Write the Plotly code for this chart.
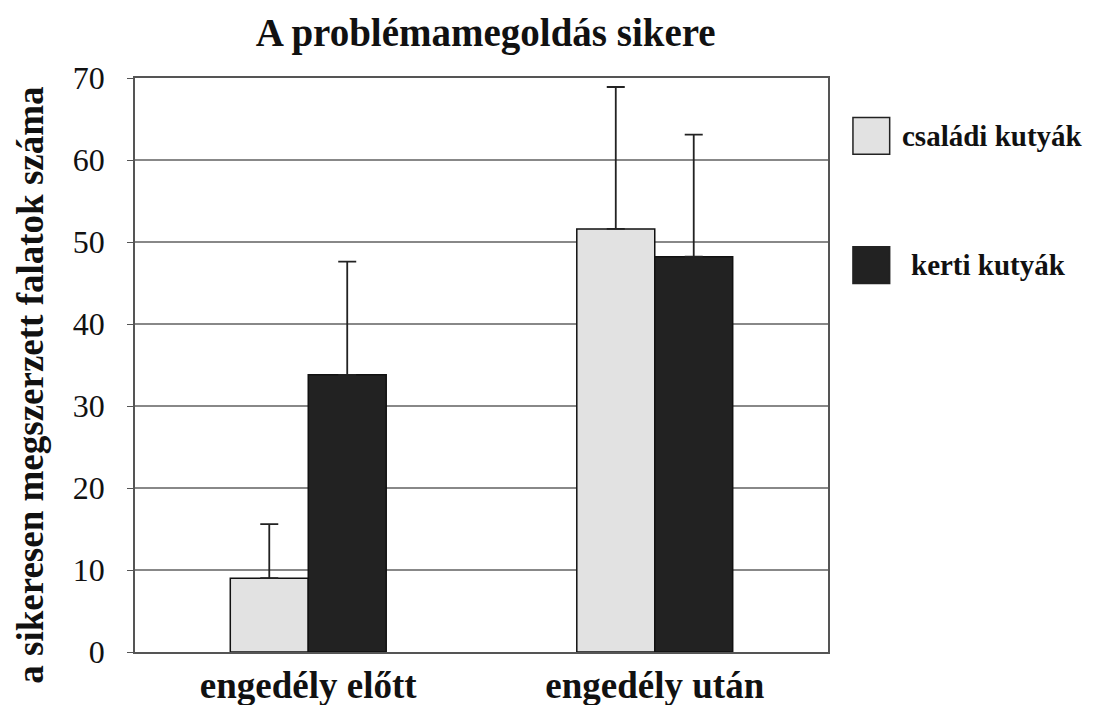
import plotly.graph_objects as go

categories = ["engedély előtt", "engedély után"]
series_names = ["családi kutyák", "kerti kutyák"]
csaladi_values = [9.0, 51.6]
csaladi_errors = [6.6, 17.3]
kerti_values = [33.8, 48.2]
kerti_errors = [13.8, 14.9]
y_ticks = [0, 10, 20, 30, 40, 50, 60, 70]
y_title = "a sikeresen megszerzett falatok száma"
chart_title = "A problémamegoldás sikere"

FONT = "Liberation Serif"
colors = ["#e2e2e2", "#222222"]

fig = go.Figure()
for name, vals, errs, col in [
    (series_names[0], csaladi_values, csaladi_errors, colors[0]),
    (series_names[1], kerti_values, kerti_errors, colors[1]),
]:
    fig.add_trace(go.Bar(
        x=categories, y=vals, name=name,
        marker=dict(color=col, line=dict(color="#111111", width=1.5)),
        error_y=dict(type="data", array=errs, arrayminus=[0] * len(errs),
                     symmetric=False, color="#222222", thickness=1.8, width=9),
        showlegend=False,
    ))

# manual legend (large swatches as in the reference)
legend_y = [0.899, 0.674]
legend_text_x = [1.104, 1.117]
for name, col, ly, tx in zip(series_names, colors, legend_y, legend_text_x):
    fig.add_shape(type="rect", xref="paper", yref="paper",
                  x0=1.036, x1=1.089, y0=ly - 0.032, y1=ly + 0.032,
                  fillcolor=col, line=dict(color="#222222", width=1.5))
    fig.add_annotation(text="<b>" + name + "</b>", xref="paper", yref="paper",
                       x=tx, y=ly, xanchor="left", yanchor="middle",
                       showarrow=False, font=dict(family=FONT, size=29, color="#111111"))

# y-axis title as rotated annotation
fig.add_annotation(text="<b>" + y_title + "</b>", xref="paper", yref="paper",
                   x=-0.152, y=0.465, xanchor="center", yanchor="middle",
                   textangle=-90, showarrow=False,
                   font=dict(family=FONT, size=37, color="#111111"))

fig.update_layout(
    width=1086, height=697,
    margin=dict(l=127, r=266, t=70, b=53, autoexpand=False),
    paper_bgcolor="white", plot_bgcolor="white",
    barmode="group", bargap=0.55, bargroupgap=0,
    title=dict(text="<b>" + chart_title + "</b>", xref="paper", x=0.506,
               xanchor="center", y=0.965, yanchor="middle",
               font=dict(family=FONT, size=39, color="#111111")),
    font=dict(family=FONT, color="#111111"),
)
fig.update_xaxes(
    automargin=False,
    showline=True, linecolor="#555555", linewidth=1.5, mirror=True,
    tickfont=dict(family=FONT, size=37, color="#111111"),
    tickprefix="<b>", ticksuffix="</b>",
    ticks="", showgrid=False,
)
fig.update_yaxes(
    automargin=False,
    range=[0, 70], tickvals=y_ticks,
    showline=True, linecolor="#555555", linewidth=1.5, mirror=True,
    showgrid=True, gridcolor="#888888", gridwidth=1.5,
    ticks="outside", ticklen=6, tickcolor="#555555",
    ticklabelstandoff=16,
    tickfont=dict(family=FONT, size=32, color="#111111"),
    zeroline=False,
)

fig.write_html("out.html")
